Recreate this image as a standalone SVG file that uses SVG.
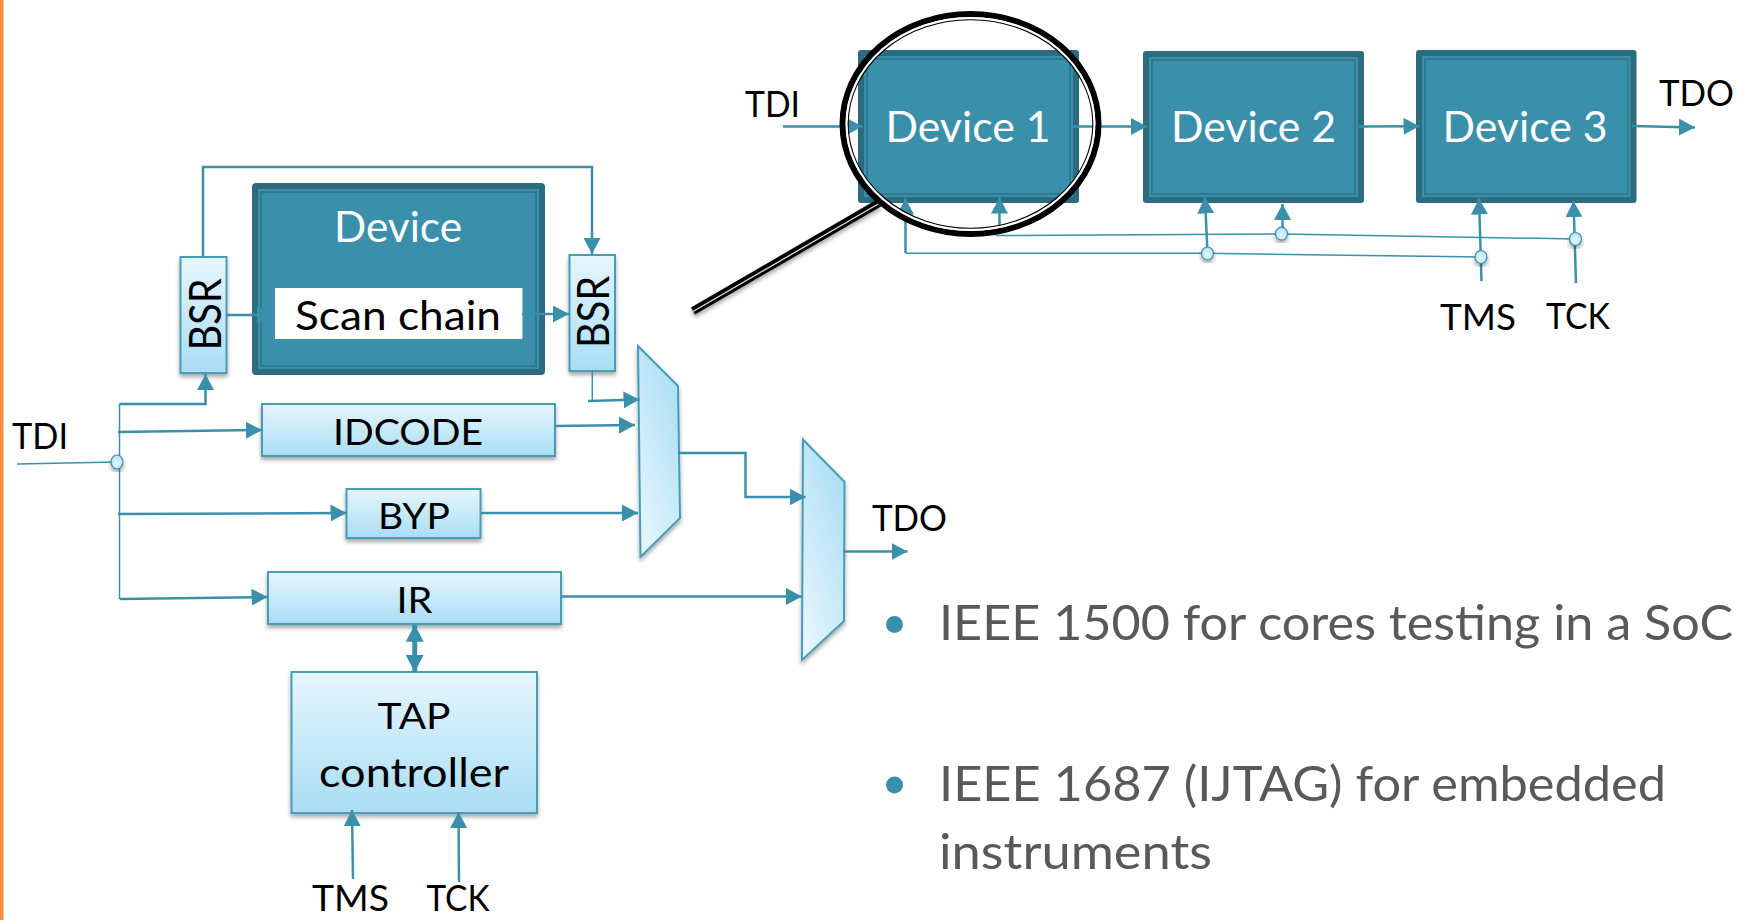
<svg xmlns="http://www.w3.org/2000/svg" width="1737" height="920" viewBox="0 0 1737 920">
<defs>
<linearGradient id="gv" x1="0" y1="0" x2="0" y2="1"><stop offset="0" stop-color="#E6F6FD"/><stop offset="1" stop-color="#A9DDF4"/></linearGradient>
<linearGradient id="m1" x1="0.8" y1="0" x2="0.2" y2="1"><stop offset="0" stop-color="#A9DDF4"/><stop offset="1" stop-color="#E6F6FD"/></linearGradient>
<radialGradient id="dotg" cx="0.5" cy="0.6" r="0.6"><stop offset="0" stop-color="#E6F6FD"/><stop offset="1" stop-color="#B4E1F5"/></radialGradient>
<filter id="sh" x="-20%" y="-20%" width="140%" height="140%"><feDropShadow dx="0" dy="3" stdDeviation="2.2" flood-color="#000" flood-opacity="0.35"/></filter>
<marker id="a" markerUnits="userSpaceOnUse" markerWidth="17" markerHeight="17" refX="16" refY="8.500" orient="auto"><path d="M0 0L16 8.500L0 17Z" fill="#3A90AA"/></marker>
<marker id="ab" markerUnits="userSpaceOnUse" markerWidth="18" markerHeight="18" refX="17" refY="9" orient="auto-start-reverse"><path d="M0 0L17 9L0 18Z" fill="#3A90AA"/></marker>
</defs>
<style>
text{font-family:Lato,"Liberation Sans",sans-serif}
.l{font-size:37px;fill:#000}
.lo{font-size:41px;fill:#000}
.r{font-size:44px;fill:#000}
.d{font-size:42px;fill:#fff}
.b{font-size:49px;fill:#595959}
.w{fill:none;stroke:#3A90AA;stroke-width:2.5}
.wa{marker-end:url(#a)}
.t{fill:none;stroke:#3A90AA;stroke-width:1.5}
.box{fill:url(#gv);stroke:#4A9CB5;stroke-width:2;filter:url(#sh)}
.mux{fill:url(#m1);stroke:#4A9CB5;stroke-width:2;filter:url(#sh)}
.o{fill:#2C6B80}
.i{fill:#3A90AA}
.n{fill:none;stroke:#2F7A92;stroke-width:2}
.dot{fill:url(#dotg);stroke:#3A90AA;stroke-width:1.2;filter:url(#sh)}
</style>
<rect width="1737" height="920" fill="#fff"/>
<rect x="0" y="0" width="3.5" height="920" fill="#F58B3F"/>

<g id="device-left">
<rect class="o" x="252" y="183" width="293" height="192" rx="4"/>
<rect class="i" x="258" y="189" width="281" height="180"/>
<rect class="n" x="261" y="192" width="275" height="174"/>
<text class="d" x="398" y="242" text-anchor="middle" textLength="128" lengthAdjust="spacingAndGlyphs">Device</text>
<rect x="275" y="288" width="247.500" height="51" fill="#fff"/>
<text class="lo" x="398" y="330" text-anchor="middle" textLength="206" lengthAdjust="spacingAndGlyphs">Scan chain</text>
</g>
<g id="bsr-left"><rect class="box" x="180.500" y="257" width="46" height="116"/>
<text class="r" transform="translate(221 350.500) rotate(-90)" textLength="72" lengthAdjust="spacingAndGlyphs">BSR</text></g>
<g id="bsr-right"><rect class="box" x="569.500" y="255" width="45.500" height="116"/>
<text class="r" transform="translate(608.500 348) rotate(-90)" textLength="72" lengthAdjust="spacingAndGlyphs">BSR</text></g>
<g id="idcode"><rect class="box" x="262" y="404" width="293" height="52"/>
<text class="l" x="408" y="444.500" text-anchor="middle" textLength="150" lengthAdjust="spacingAndGlyphs">IDCODE</text></g>
<g id="byp"><rect class="box" x="346.500" y="489" width="134" height="49"/>
<text class="l" x="414" y="528.500" text-anchor="middle" textLength="72" lengthAdjust="spacingAndGlyphs">BYP</text></g>
<g id="ir"><rect class="box" x="268" y="572" width="293" height="52"/>
<text class="l" x="414.500" y="613" text-anchor="middle" textLength="36" lengthAdjust="spacingAndGlyphs">IR</text></g>
<g id="tap"><rect class="box" x="291.500" y="672" width="245.500" height="141"/>
<text class="l" x="414" y="729" text-anchor="middle" textLength="73" lengthAdjust="spacingAndGlyphs">TAP</text>
<text class="lo" x="414" y="787" text-anchor="middle" textLength="190" lengthAdjust="spacingAndGlyphs">controller</text></g>
<g id="mux1"><path class="mux" d="M638 346L678 386L680 518L640.500 557Z"/></g>
<g id="mux2"><path class="mux" d="M803 439.500L844.500 482L844 621L802 660Z"/></g>

<g id="device-1"><rect class="o" x="858" y="50" width="221" height="153" rx="3"/><rect class="i" x="864" y="56" width="209" height="141"/><rect class="n" x="867" y="59" width="203" height="135"/>
<text class="d" x="968" y="142" text-anchor="middle" textLength="165" lengthAdjust="spacingAndGlyphs">Device 1</text></g>
<g id="device-2"><rect class="o" x="1143" y="51" width="221" height="152" rx="3"/><rect class="i" x="1149" y="57" width="209" height="140"/><rect class="n" x="1152" y="60" width="203" height="134"/>
<text class="d" x="1253.500" y="142" text-anchor="middle" textLength="165" lengthAdjust="spacingAndGlyphs">Device 2</text></g>
<g id="device-3"><rect class="o" x="1416" y="50" width="220.500" height="153" rx="3"/><rect class="i" x="1422" y="56" width="208.500" height="141"/><rect class="n" x="1425" y="59" width="202.500" height="135"/>
<text class="d" x="1525" y="142" text-anchor="middle" textLength="165" lengthAdjust="spacingAndGlyphs">Device 3</text></g>

<g id="connectors">
<path class="w wa" d="M203 257V167H592V254"/>
<path class="w wa" d="M226 315H273"/>
<path class="w wa" d="M522 314H569"/>
<path class="t" d="M17 464L117 462"/>
<path class="t" d="M119.500 404V599"/>
<path class="w wa" d="M119.500 404H205.500V374"/>
<path class="w wa" d="M118 432L262 430"/>
<path class="w wa" d="M555 426L635 425"/>
<path class="w wa" d="M118 514L346.500 513"/>
<path class="w wa" d="M481 513H638"/>
<path class="w wa" d="M120 599L267.500 597"/>
<path class="w wa" d="M561 596.500H802"/>
<path class="t" d="M592.300 371V400.500"/>
<path class="w wa" d="M588 401L639.500 399.500"/>
<path class="w wa" d="M678 453H745.500V497H805.500"/>
<path class="w wa" d="M843 551.500H907.500"/>
<path d="M414.700 624.700V672" fill="none" stroke="#3A90AA" stroke-width="5" marker-start="url(#ab)" marker-end="url(#ab)"/>
<path class="w wa" d="M353 879L352 810"/>
<path class="w wa" d="M459 882L458.500 812"/>
<path class="w wa" d="M783 126.500H862.500"/>
<path class="w wa" d="M1073 126.500H1147"/>
<path class="w wa" d="M1359 126.500L1419.500 126.300"/>
<path class="w wa" d="M1632 126L1695 127.500"/>
<path class="t" d="M905.500 253.300H1207.500L1481 257"/>
<path class="w wa" d="M905.500 253V198.500"/>
<path class="w wa" d="M999.500 232V197.500"/>
<path class="t" d="M996 235.500L1282 234L1575.500 239"/>
<path class="w wa" d="M1207.500 253.500L1205 197.500"/>
<path class="w wa" d="M1282.500 234V204"/>
<path class="w wa" d="M1481.500 281L1479 198.500"/>
<path class="w wa" d="M1576 283L1573.500 201"/>
</g>
<g id="junctions">
<ellipse class="dot" cx="117" cy="462" rx="6" ry="7"/>
<ellipse class="dot" cx="1207.500" cy="253.500" rx="6" ry="6.500"/>
<ellipse class="dot" cx="1281.500" cy="233.700" rx="6" ry="6.500"/>
<ellipse class="dot" cx="1481" cy="257" rx="6" ry="6.500"/>
<ellipse class="dot" cx="1575.500" cy="239" rx="6" ry="6.500"/>
</g>
<g id="magnifier">
<path d="M693 311L879 203" fill="none" stroke="#000" stroke-width="8" filter="url(#sh)"/>
<path d="M693 311.500L879 203.500" fill="none" stroke="#ddd" stroke-width="1.300"/>
<ellipse cx="970.500" cy="124" rx="128" ry="110" fill="none" stroke="#000" stroke-width="6"/>
<ellipse cx="970.500" cy="124" rx="123.800" ry="105.800" fill="none" stroke="#fff" stroke-width="2.200"/>
<ellipse cx="970.500" cy="124" rx="122.300" ry="104.300" fill="none" stroke="#000" stroke-width="1.100"/>
</g>
<g id="labels">
<text class="l" x="12" y="449" textLength="56" lengthAdjust="spacingAndGlyphs">TDI</text>
<text class="l" x="745" y="117" textLength="55" lengthAdjust="spacingAndGlyphs">TDI</text>
<text class="l" x="872" y="531" textLength="75" lengthAdjust="spacingAndGlyphs">TDO</text>
<text class="l" x="1659" y="106" textLength="75" lengthAdjust="spacingAndGlyphs">TDO</text>
<text class="l" x="312" y="911" textLength="77" lengthAdjust="spacingAndGlyphs">TMS</text>
<text class="l" x="426.500" y="911" textLength="63" lengthAdjust="spacingAndGlyphs">TCK</text>
<text class="l" x="1440" y="330" textLength="76" lengthAdjust="spacingAndGlyphs">TMS</text>
<text class="l" x="1546" y="329" textLength="64" lengthAdjust="spacingAndGlyphs">TCK</text>
</g>
<g id="bullets">
<circle cx="894.500" cy="624.500" r="8.500" fill="#3A90AA"/>
<circle cx="894.500" cy="785" r="8.500" fill="#3A90AA"/>
<text class="b" x="939" y="640" textLength="794" lengthAdjust="spacingAndGlyphs">IEEE 1500 for cores testing in a SoC</text>
<text class="b" x="939" y="801" textLength="727" lengthAdjust="spacingAndGlyphs">IEEE 1687 (IJTAG) for embedded</text>
<text class="b" x="939" y="869" textLength="273" lengthAdjust="spacingAndGlyphs">instruments</text>
</g>
</svg>
